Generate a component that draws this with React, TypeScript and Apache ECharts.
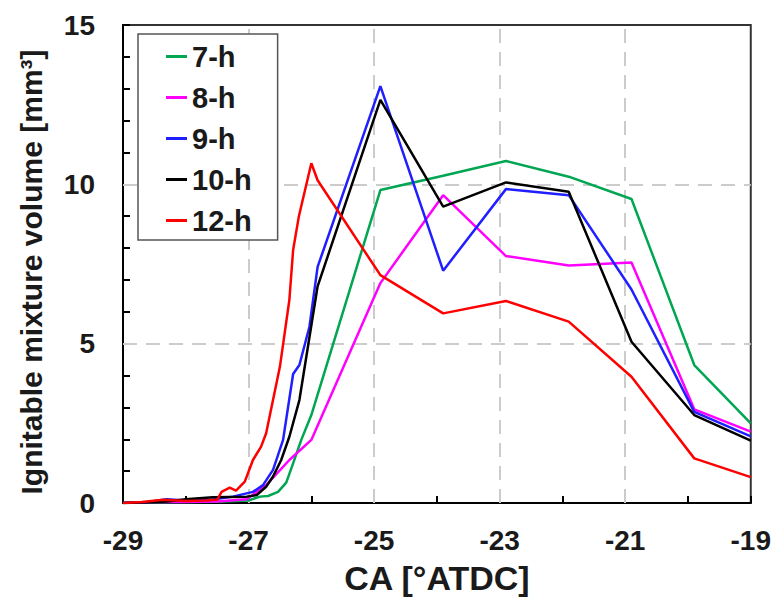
import React, { useEffect, useRef } from "react";
import * as echarts from "echarts";

const seriesNames = ["7-h", "8-h", "9-h", "10-h", "12-h"];
const seriesColors = ["#00a651", "#ff00ff", "#1f1fff", "#000000", "#ff0000"];

const x7 = [-29, -28.5, -28, -27.5, -27.0, -26.82, -26.69, -26.53, -26.4, -26.3, -26.16, -26.0, -24.9, -23.9, -22.9, -21.9, -20.9, -19.9, -19];
const y7 = [0, 0.02, 0.03, 0.04, 0.08, 0.2, 0.22, 0.35, 0.64, 1.19, 1.98, 2.76, 9.82, 10.27, 10.73, 10.24, 9.54, 4.33, 2.5];

const x8 = [-29, -28.5, -28, -27.5, -27.03, -26.72, -26.35, -26.0, -24.9, -23.9, -22.9, -21.9, -20.9, -19.9, -19];
const y8 = [0, 0.03, 0.03, 0.05, 0.12, 0.56, 1.35, 1.98, 6.9, 9.66, 7.75, 7.45, 7.55, 2.94, 2.24];

const x9 = [-29, -28.6, -28.3, -28.0, -27.6, -27.25, -26.93, -26.77, -26.61, -26.45, -26.29, -26.19, -26.03, -25.9, -24.9, -23.9, -22.9, -21.9, -20.9, -19.9, -19];
const y9 = [0, 0.03, 0.12, 0.08, 0.1, 0.2, 0.35, 0.56, 1.04, 1.98, 4.05, 4.33, 5.53, 7.41, 13.08, 7.29, 9.85, 9.66, 6.7, 2.86, 2.09];

const x10 = [-29, -28.6, -28.3, -28.0, -27.57, -27.03, -26.87, -26.72, -26.61, -26.48, -26.35, -26.19, -25.9, -24.9, -23.9, -22.9, -21.9, -20.9, -19.9, -19];
const y10 = [0, 0.02, 0.05, 0.12, 0.18, 0.2, 0.25, 0.51, 0.83, 1.35, 2.08, 3.23, 6.8, 12.65, 9.3, 10.06, 9.77, 5.06, 2.76, 1.96];

const x12 = [-29, -28.7, -28.36, -28.0, -27.7, -27.5, -27.43, -27.3, -27.2, -27.06, -26.93, -26.8, -26.72, -26.5, -26.35, -26.29, -26.2, -26.0, -25.9, -24.9, -23.9, -22.9, -21.9, -20.9, -19.9, -19];
const y12 = [0, 0.03, 0.1, 0.06, 0.08, 0.1, 0.35, 0.48, 0.39, 0.67, 1.35, 1.77, 2.19, 4.28, 6.37, 7.94, 8.98, 10.66, 10.13, 7.15, 5.95, 6.34, 5.69, 3.96, 1.4, 0.81];

const xGridValues = [-27, -25, -23, -21];
const yGridValues = [5, 10];

const xs = [x7, x8, x9, x10, x12];
const ys = [y7, y8, y9, y10, y12];

const FONT = "'Liberation Sans', Arial, sans-serif";

export default function App() {
  const ref = useRef<HTMLDivElement>(null);
  useEffect(() => {
    if (!ref.current) return;
    const chart = echarts.init(ref.current, undefined, { renderer: "svg" });
    const lineSeries = seriesNames.map((name, i) => ({
      name,
      type: "line",
      data: xs[i].map((x, k) => [x, ys[i][k]]),
      symbol: "none",
      color: seriesColors[i],
      lineStyle: { color: seriesColors[i], width: 2.5 },
      z: 3,
    }));
    const gridSeries = {
      name: "grid",
      type: "line",
      data: [],
      silent: true,
      z: 1,
      markLine: {
        silent: true,
        symbol: "none",
        z: 1,
        label: { show: false },
        lineStyle: { color: "#cccccc", type: [14, 9], width: 2 },
        emphasis: { disabled: true },
        data: [
          ...xGridValues.map((v) => ({ xAxis: v })),
          ...yGridValues.map((v) => ({ yAxis: v })),
        ],
      },
    };
    chart.setOption({
      animation: false,
      backgroundColor: "#ffffff",
      textStyle: { fontFamily: FONT },
      grid: {
        left: 123,
        top: 25,
        right: 22,
        bottom: 98,
        show: true,
        borderColor: "#333333",
        borderWidth: 2,
        backgroundColor: "transparent",
      },
      legend: {
        data: seriesNames,
        orient: "vertical",
        left: 138,
        top: 34,
        icon: "rect",
        itemWidth: 21,
        itemHeight: 3,
        itemGap: 12,
        padding: [8, 26, 5, 28],
        borderColor: "#555555",
        borderWidth: 1.5,
        backgroundColor: "#ffffff",
        textStyle: { fontSize: 29, fontWeight: "bold", color: "#1a1a1a", fontFamily: FONT, lineHeight: 29 },
      },
      xAxis: {
        type: "value",
        min: -29,
        max: -19,
        interval: 1,
        name: "CA [°ATDC]",
        nameLocation: "middle",
        nameGap: 58,
        nameTextStyle: { fontSize: 34, fontWeight: "bold", color: "#1a1a1a", fontFamily: FONT },
        axisLine: { lineStyle: { color: "#000000", width: 2 } },
        axisTick: { inside: true, length: 7, lineStyle: { color: "#000000", width: 2 } },
        axisLabel: {
          margin: 23,
          fontSize: 28,
          fontWeight: "bold",
          color: "#1a1a1a",
          fontFamily: FONT,
          formatter: (v: number) => (Math.abs(Math.round(v)) % 2 === 1 ? String(v) : ""),
        },
        splitLine: { show: false },
      },
      yAxis: {
        type: "value",
        min: 0,
        max: 15,
        interval: 1,
        name: "Ignitable mixture volume [mm³]",
        nameLocation: "middle",
        nameGap: 77,
        nameTextStyle: { fontSize: 30, fontWeight: "bold", color: "#1a1a1a", fontFamily: FONT, padding: [0, 16, 0, 0] },
        axisLine: { show: true, lineStyle: { color: "#000000", width: 2 } },
        axisTick: { inside: true, length: 7, lineStyle: { color: "#000000", width: 2 } },
        axisLabel: {
          margin: 28,
          fontSize: 28,
          fontWeight: "bold",
          color: "#1a1a1a",
          fontFamily: FONT,
          formatter: (v: number) => (Math.round(v) % 5 === 0 ? String(v) : ""),
        },
        splitLine: { show: false },
      },
      series: [gridSeries, ...lineSeries],
    });
    return () => chart.dispose();
  }, []);
  return (
    <div
      ref={ref}
      style={{ position: "fixed", left: 0, top: 0, width: 774, height: 601, background: "#fff" }}
    />
  );
}
